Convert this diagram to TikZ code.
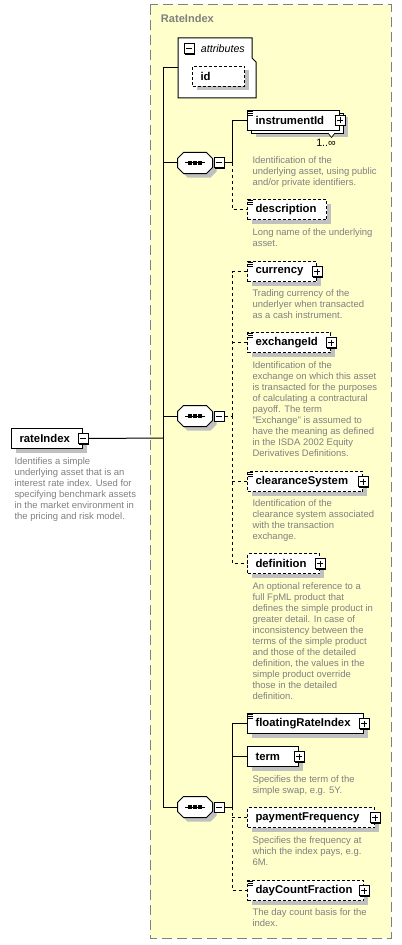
\documentclass[tikz,border=0pt]{standalone}
\usepackage{fontspec}
\setmainfont{Liberation Sans}
\usetikzlibrary{shadows}

\definecolor{schemayellow}{RGB}{255,255,204}
\definecolor{bordergray}{RGB}{128,128,128}
\definecolor{shadowgray}{RGB}{192,192,192}
\definecolor{descgray}{RGB}{128,128,128}

\newcommand{\labelfont}{\fontsize{8.5}{10}\selectfont\bfseries}
\newcommand{\descfont}{\fontsize{7.1}{8.25}\selectfont}

\tikzset{
  elem/.style={draw, fill=white, anchor=north west, minimum height=15pt, inner xsep=6pt, inner ysep=0pt, text width=#1, align=left, font=\labelfont},
  shadowed/.style={drop shadow={shadow xshift=3pt, shadow yshift=-3pt, fill=shadowgray, opacity=1}},
  optional/.style={dash pattern=on 2.25pt off 1.5pt},
  dashedline/.style={dash pattern=on 2.25pt off 2.25pt},
  smallbox/.style={draw, fill=white, minimum size=7.5pt, inner sep=0pt, drop shadow={shadow xshift=0.75pt, shadow yshift=-0.75pt, fill=black, opacity=1}},
  minusbox/.style={smallbox, path picture={
      \draw[line width=0.75pt] ([xshift=1.5pt]path picture bounding box.west) -- ([xshift=-1.5pt]path picture bounding box.east);}},
  plusbox/.style={smallbox, path picture={
      \draw[line width=0.75pt] ([xshift=1.5pt]path picture bounding box.west) -- ([xshift=-1.5pt]path picture bounding box.east);
      \draw[line width=0.75pt] ([yshift=-1.5pt]path picture bounding box.north) -- ([yshift=1.5pt]path picture bounding box.south);}},
  seqbox/.style={minimum width=25.5pt, minimum height=15pt, inner sep=0pt},
  desc/.style={anchor=north west, inner sep=0pt, align=left, text=descgray, font=\descfont},
}

\begin{document}
\begin{tikzpicture}[x=0.75pt, y=-0.75pt, line width=0.75pt]
    \useasboundingbox (0,0) rectangle (402,945);
    \draw[fill=schemayellow, draw=bordergray, dash pattern=on 7.5pt off 3.75pt] (150,5) rectangle (391,938);
    \node[anchor=west, text=bordergray, font=\fontsize{8.3}{10}\selectfont\bfseries] (typeName) at (156,19) {RateIndex};

    \draw[fill=white] (178,38) -- (252,38) -- (252,58) -- (256,62) -- (256,98) -- (178,98) -- cycle;
    \coordinate (attr) at (178,68);
    \node[minusbox] (attrMinus) at (189,49) {};
    \node[anchor=west, font=\fontsize{8}{10}\selectfont\itshape] (attrLabel) at (196,49) {attributes};
    \node[elem=27pt, optional, shadowed] (id) at (192,66) {id};

    \node[elem=41.25pt, shadowed] (rateIndex) at (11,428) {rateIndex};
    \node[minusbox] (rateIndexMinus) at (rateIndex.east) {};
    \node[desc] (rateIndexDesc) at (14,457.5) {Identifies a simple\\underlying asset that is an\\interest rate index. Used for\\specifying benchmark assets\\in the market environment in\\the pricing and risk model.};

    \foreach \s/\y in {seqA/163, seqB/416, seqC/807} {
        \node[seqbox] (\s) at (195,\y) {};
        \draw[fill=white, shadowed] ([xshift=4.5pt]\s.north west) -- ([xshift=-4.5pt]\s.north east)
            -- ([yshift=-4.5pt]\s.north east) -- ([yshift=4.5pt]\s.south east)
            -- ([xshift=-4.5pt]\s.south east) -- ([xshift=4.5pt]\s.south west)
            -- ([yshift=4.5pt]\s.south west) -- ([yshift=-4.5pt]\s.north west) -- cycle;
        \node[minusbox, anchor=west] (\s Minus) at ([xshift=0.75pt]\s.east) {};
        \draw ([xshift=-7.5pt]\s.center) -- ([xshift=7.5pt]\s.center);
        \foreach \d in {-3.75,0,3.75}
            \fill ([xshift=\d pt]\s.center) ++(-1.3pt,-1.3pt) rectangle ++(2.6pt,2.6pt);
    }
    \coordinate (trunk) at (163,438);
    \coordinate (brA) at (232,163);
    \coordinate (brB) at (232,416);
    \coordinate (brC) at (232,807);

    \node[elem=57pt, shadowed] (instrumentIdBack) at (251,113) {};
    \node[elem=57pt] (instrumentId) at (247,110) {instrumentId};
    \node[plusbox] (instrumentIdPlus) at (instrumentId.east) {};
    \draw[fill=white, line width=0.5pt] (328,133) -- (331.5,137.5) -- (335,133);
    \node[font=\fontsize{8}{10}\selectfont] (instrumentIdMult) at (326,143) {1..∞};
    \node[desc] (instrumentIdDesc) at (252,156.5) {Identification of the\\underlying asset, using public\\and/or private identifiers.};

    \node[elem=47.25pt, optional, shadowed] (description) at (247,199) {description};
    \node[desc] (descriptionDesc) at (252,228.5) {Long name of the underlying\\asset.};

    \node[elem=39.75pt, optional, shadowed] (currency) at (247,261) {currency};
    \node[plusbox] (currencyPlus) at (currency.east) {};
    \node[desc] (currencyDesc) at (252,289.5) {Trading currency of the\\underlyer when transacted\\as a cash instrument.};

    \node[elem=50.25pt, optional, shadowed] (exchangeId) at (247,332) {exchangeId};
    \node[plusbox] (exchangeIdPlus) at (exchangeId.east) {};
    \node[desc] (exchangeIdDesc) at (252,361.5) {Identification of the\\exchange on which this asset\\is transacted for the purposes\\of calculating a contractural\\payoff. The term\\"Exchange" is assumed to\\have the meaning as defined\\in the ISDA 2002 Equity\\Derivatives Definitions.};

    \node[elem=74.25pt, optional, shadowed] (clearanceSystem) at (247,471) {clearanceSystem};
    \node[plusbox] (clearanceSystemPlus) at (clearanceSystem.east) {};
    \node[desc] (clearanceSystemDesc) at (252,499) {Identification of the\\clearance system associated\\with the transaction\\exchange.};

    \node[elem=42pt, optional, shadowed] (definition) at (247,553) {definition};
    \node[plusbox] (definitionPlus) at (definition.east) {};
    \node[desc] (definitionDesc) at (252,582.5) {An optional reference to a\\full FpML product that\\defines the simple product in\\greater detail. In case of\\inconsistency between the\\terms of the simple product\\and those of the detailed\\definition, the values in the\\simple product override\\those in the detailed\\definition.};

    \node[elem=75pt, shadowed] (floatingRateIndex) at (247,713) {floatingRateIndex};
    \node[plusbox] (floatingRateIndexPlus) at (floatingRateIndex.east) {};

    \node[elem=26.25pt, shadowed] (term) at (247,746) {term};
    \node[plusbox] (termPlus) at (term.east) {};
    \node[desc] (termDesc) at (252,775.5) {Specifies the term of the\\simple swap, e.g. 5Y.};

    \node[elem=83.25pt, optional, shadowed] (paymentFrequency) at (247,807) {paymentFrequency};
    \node[plusbox] (paymentFrequencyPlus) at (paymentFrequency.east) {};
    \node[desc] (paymentFrequencyDesc) at (252,836.5) {Specifies the frequency at\\which the index pays, e.g.\\6M.};

    \node[elem=75pt, optional, shadowed] (dayCountFraction) at (247,880) {dayCountFraction};
    \node[plusbox] (dayCountFractionPlus) at (dayCountFraction.east) {};
    \node[desc] (dayCountFractionDesc) at (252,908) {The day count basis for the\\index.};

    \foreach \n in {instrumentId, description, currency, exchangeId, clearanceSystem, floatingRateIndex, dayCountFraction}
        \foreach \k in {0.75,2.25,3.75}
            \draw[line width=0.5pt] ([xshift=0.75pt,yshift=-\k pt]\n.north west) -- ++(3.75pt,0);

    \draw (rateIndexMinus.east) -- (trunk);
    \draw (trunk) |- (attr);
    \draw (trunk) |- (seqA.west);
    \draw (trunk) |- (seqB.west);
    \draw (trunk) |- (seqC.west);

    \draw (seqAMinus.east) -- (brA) |- (instrumentId.west);
    \draw[dashedline] (brA) |- (description.west);

    \draw[dashedline] (seqBMinus.east) -- (brB);
    \draw[dashedline] (brB) |- (currency.west);
    \draw[dashedline] (brB) |- (definition.west);
    \draw[dashedline] (exchangeId.west -| brB) -- (exchangeId.west);
    \draw[dashedline] (clearanceSystem.west -| brB) -- (clearanceSystem.west);

    \draw (seqCMinus.east) -- (brC) |- (floatingRateIndex.west);
    \draw (term.west -| brC) -- (term.west);
    \draw[dashedline] (brC) |- (dayCountFraction.west);
    \draw[dashedline] (paymentFrequency.west -| brC) -- (paymentFrequency.west);
\end{tikzpicture}
\end{document}
